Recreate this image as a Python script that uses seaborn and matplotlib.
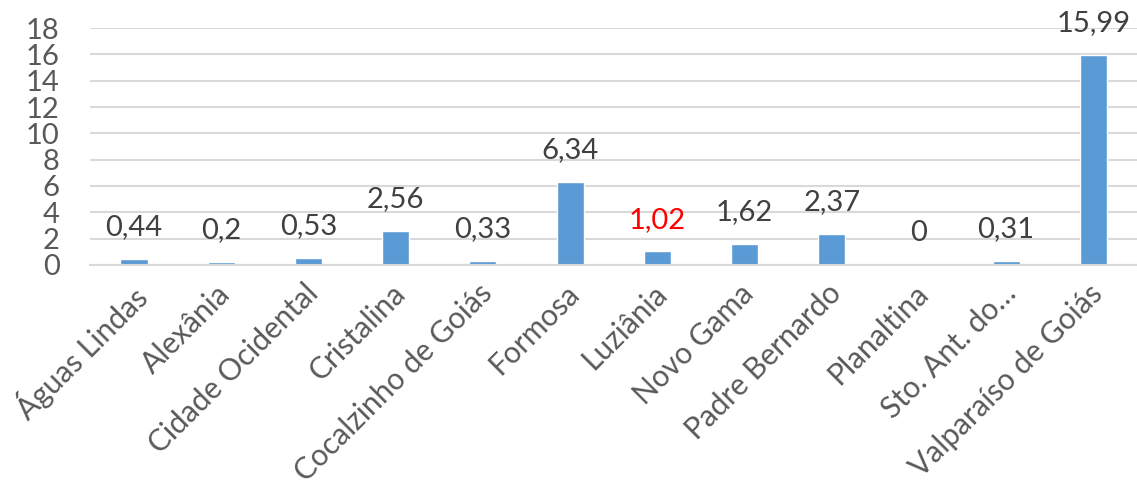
import matplotlib
matplotlib.use("Agg")
import matplotlib.pyplot as plt
import matplotlib.transforms as mtransforms
import seaborn as sns
import pandas as pd

# dati
municipios = ["Águas Lindas", "Alexânia", "Cidade Ocidental", "Cristalina",
              "Cocalzinho de Goiás", "Formosa", "Luziânia", "Novo Gama",
              "Padre Bernardo", "Planaltina", "Sto. Ant. do…", "Valparaíso de Goiás"]
valores = [0.44, 0.2, 0.53, 2.56, 0.33, 6.34, 1.02, 1.62, 2.37, 0, 0.31, 15.99]
rotulos = ["0,44", "0,2", "0,53", "2,56", "0,33", "6,34", "1,02", "1,62", "2,37", "0", "0,31", "15,99"]
cores_rotulos = ["#404040"] * 12
cores_rotulos[6] = "#FF0000"

df = pd.DataFrame({"municipio": municipios, "valor": valores})

sns.set_style("white")
plt.rcParams["font.family"] = ["Lato", "DejaVu Sans"]

fig = plt.figure(figsize=(11.37, 4.86), dpi=100)
ax = fig.add_axes([0.0795, 0.455, 0.9205, 0.487])

sns.barplot(data=df, x="municipio", y="valor", color="#5B9BD5", width=0.31,
            saturation=1, ax=ax)

ax.set_ylim(0, 18)
ax.set_yticks(range(0, 19, 2))
ax.yaxis.grid(True, color="#D9D9D9", linewidth=1.5)
ax.set_axisbelow(True)
for s in ["top", "right", "left"]:
    ax.spines[s].set_visible(False)
ax.spines["bottom"].set_color("#D9D9D9")
ax.spines["bottom"].set_linewidth(1.5)

ax.set_xlabel("")
ax.set_ylabel("")
ax.tick_params(axis="y", length=0, labelsize=21, labelcolor="#595959", pad=22)
ax.tick_params(axis="x", length=0, labelsize=21.5, labelcolor="#595959", pad=6)
sposta = mtransforms.ScaledTranslation(-5 / 100, -6 / 100, fig.dpi_scale_trans)
for lab in ax.get_xticklabels():
    lab.set_rotation(45)
    lab.set_ha("right")
    lab.set_rotation_mode("anchor")
    lab.set_transform(lab.get_transform() + sposta)

# etichette dei valori
for i, (v, t) in enumerate(zip(valores, rotulos)):
    ax.annotate(t, (i, v), xytext=(0, 13.5), textcoords="offset points",
                ha="center", va="bottom", fontsize=21, color=cores_rotulos[i])

fig.savefig("out.png", dpi=100)
